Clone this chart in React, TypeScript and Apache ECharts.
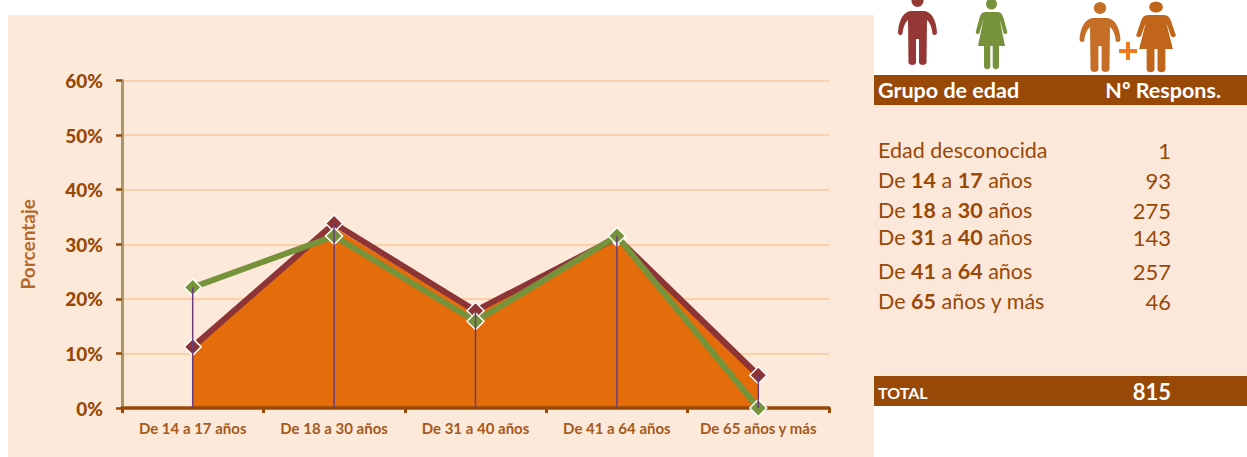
import React, { useEffect, useRef } from "react";
import * as echarts from "echarts";

const categories = ["De 14 a 17 años", "De 18 a 30 años", "De 31 a 40 años", "De 41 a 64 años", "De 65 años y más"];
const totalValues = [11, 33, 17.2, 31, 5.6];
const maleValues = [11.2, 33.8, 17.8, 31.2, 6];
const femaleValues = [22.1, 31.5, 15.9, 31.5, 0];
const dropLineValues = [22.1, 33.8, 17.8, 31.5, 6];
const yTicks = [0, 60, 10];

const tableLabels = [
  "Edad desconocida",
  "De {b|14} a {b|17} años",
  "De {b|18} a {b|30} años",
  "De {b|31} a {b|40} años",
  "De {b|41} a {b|64} años",
  "De {b|65} años y más",
];
const tableCounts = ["1", "93", "275", "143", "257", "46"];
const tableTotal = "815";

const manPath =
  "M -6 10 L 6 10 C 13 10 19 18 19.5 32 A 2.5 2.5 0 0 1 15 33 C 14.5 26 12 21 9.5 19 L 9 62 A 4 3 0 0 1 1.5 62 L 1.5 38 L -1.5 38 L -1.5 62 A 4 3 0 0 1 -9 62 L -9.5 19 C -12 21 -14.5 26 -15 33 A 2.5 2.5 0 0 1 -19.5 32 C -19 18 -13 10 -6 10 Z M 6 0 A 6 6 0 1 1 -6 0 A 6 6 0 1 1 6 0 Z";
const womanPath =
  "M -6 12 L 6 12 C 10 12 11 15 12 18 L 15.5 31 A 2 2 0 0 1 12 33 L 8 19 L 13.5 46 L 7.5 46 L 7.5 66 A 3 3 0 0 1 1.2 66 L 1.2 46 L -1.2 46 L -1.2 66 A 3 3 0 0 1 -7.5 66 L -7.5 46 L -13.5 46 L -8 19 L -12 33 A 2 2 0 0 1 -15.5 31 L -12 18 C -11 15 -10 12 -6 12 Z M 5.5 4 A 5.5 5.5 0 1 1 -5.5 4 A 5.5 5.5 0 1 1 5.5 4 Z";

echarts.graphic.registerShape("manIcon", echarts.graphic.extendPath(manPath as any, {}) as any);
echarts.graphic.registerShape("womanIcon", echarts.graphic.extendPath(womanPath as any, {}) as any);

const FONT = "Lato";
const BROWN = "#984807";
const rowY = [150, 180, 210, 237, 271, 301];

export default function App() {
  const ref = useRef<HTMLDivElement>(null);
  useEffect(() => {
    const chart = echarts.init(ref.current!, undefined, { renderer: "svg" });
    const label = (i: number) => ({
      type: "text",
      x: 878,
      y: rowY[i],
      style: {
        text: tableLabels[i],
        fontFamily: FONT,
        fontSize: 21.5,
        fill: BROWN,
        verticalAlign: "middle",
        rich: { b: { fontFamily: FONT, fontSize: 21.5, fontWeight: "bold", fill: BROWN, color: BROWN } },
      },
    });
    const count = (i: number) => ({
      type: "text",
      x: 1171,
      y: rowY[i],
      style: { text: tableCounts[i], fontFamily: FONT, fontSize: 22, fill: BROWN, align: "right", verticalAlign: "middle" },
    });
    chart.setOption({
      animation: false,
      backgroundColor: "#ffffff",
      graphic: [
        { type: "rect", z: -10, silent: true, shape: { x: 8, y: 15, width: 866, height: 442 }, style: { fill: "#FDE9D9" } },
        { type: "rect", z: -10, silent: true, shape: { x: 874, y: 105, width: 373, height: 271 }, style: { fill: "#FCE8DA" } },
        { type: "rect", z: 10, silent: true, shape: { x: 874, y: 75, width: 373, height: 30 }, style: { fill: BROWN } },
        { type: "rect", z: 10, silent: true, shape: { x: 874, y: 376, width: 373, height: 30 }, style: { fill: BROWN } },
        { type: "text", z: 11, x: 878, y: 90, style: { text: "Grupo de edad", fontFamily: FONT, fontSize: 21.5, fontWeight: "bold", fill: "#fff", verticalAlign: "middle" } },
        { type: "text", z: 11, x: 1221, y: 90, style: { text: "Nº Respons.", fontFamily: FONT, fontSize: 21.5, fontWeight: "bold", fill: "#fff", align: "right", verticalAlign: "middle" } },
        { type: "text", z: 11, x: 878, y: 392, style: { text: "TOTAL", fontFamily: FONT, fontSize: 16, fontWeight: "bold", fill: "#fff", verticalAlign: "middle" } },
        { type: "text", z: 11, x: 1171, y: 391, style: { text: tableTotal, fontFamily: FONT, fontSize: 22, fontWeight: "bold", fill: "#fff", align: "right", verticalAlign: "middle" } },
        ...tableLabels.map((_, i) => label(i)),
        ...tableCounts.map((_, i) => count(i)),
        { type: "manIcon", x: 917.5, y: 1, style: { fill: "#953735" } },
        { type: "womanIcon", x: 991.5, y: 0, style: { fill: "#76933C" } },
        { type: "manIcon", x: 1100, y: 8, scaleX: 1.05, style: { fill: "#C46E28" } },
        { type: "womanIcon", x: 1156, y: 3, scaleX: 1.25, style: { fill: "#C0651A" } },
        { type: "rect", shape: { x: 1119, y: 49, width: 18, height: 4 }, style: { fill: "#EE7A1C" } },
        { type: "rect", shape: { x: 1126, y: 42, width: 4, height: 18 }, style: { fill: "#EE7A1C" } },
      ],
      grid: { left: 122, right: 418, top: 80.5, bottom: 49, containLabel: false },
      xAxis: {
        type: "category",
        data: categories,
        z: 5,
        axisLine: { lineStyle: { color: BROWN, width: 3.5 } },
        axisTick: { show: true, length: 5, lineStyle: { color: BROWN, width: 3 } },
        axisLabel: { fontFamily: FONT, fontSize: 15, fontWeight: "bold", color: "#A5591C", margin: 12, interval: 0 },
      },
      yAxis: {
        type: "value",
        min: yTicks[0],
        max: yTicks[1],
        interval: yTicks[2],
        name: "Porcentaje",
        nameLocation: "middle",
        nameGap: 85,
        nameTextStyle: { fontFamily: FONT, fontSize: 19, fontWeight: "bold", color: "#B5682A" },
        axisLine: { show: true, lineStyle: { color: "#A89663", width: 3 } },
        axisTick: { show: true, length: 6, lineStyle: { color: BROWN, width: 2.5 } },
        axisLabel: { fontFamily: FONT, fontSize: 19, fontWeight: 900, color: BROWN, margin: 19, padding: [0, 0, 2, 0], formatter: "{value}%" },
        splitLine: { lineStyle: { color: "#FBC69B", width: 1.5 } },
      },
      series: [
        {
          type: "line",
          data: totalValues,
          z: 3,
          symbol: "none",
          lineStyle: { color: "#E46C0A", width: 1 },
          areaStyle: { color: "#E46C0A", opacity: 1 },
        },
        {
          type: "line",
          data: maleValues,
          z: 6,
          symbol: "diamond",
          symbolSize: 17,
          lineStyle: { color: "#8C3436", width: 6 },
          itemStyle: { color: "#8C3436", borderColor: "#fff", borderWidth: 1.5 },
        },
        {
          type: "line",
          data: femaleValues,
          z: 7,
          symbol: "diamond",
          symbolSize: 17,
          lineStyle: { color: "#76933C", width: 6 },
          itemStyle: { color: "#76933C", borderColor: "#fff", borderWidth: 1.5 },
        },
        {
          type: "bar",
          data: dropLineValues,
          z: 8,
          barWidth: 1.5,
          itemStyle: { color: "#6A3D7C" },
        },
      ],
    });
    return () => chart.dispose();
  }, []);
  return <div ref={ref} style={{ position: "absolute", left: 0, top: 0, width: 1247, height: 457 }} />;
}
